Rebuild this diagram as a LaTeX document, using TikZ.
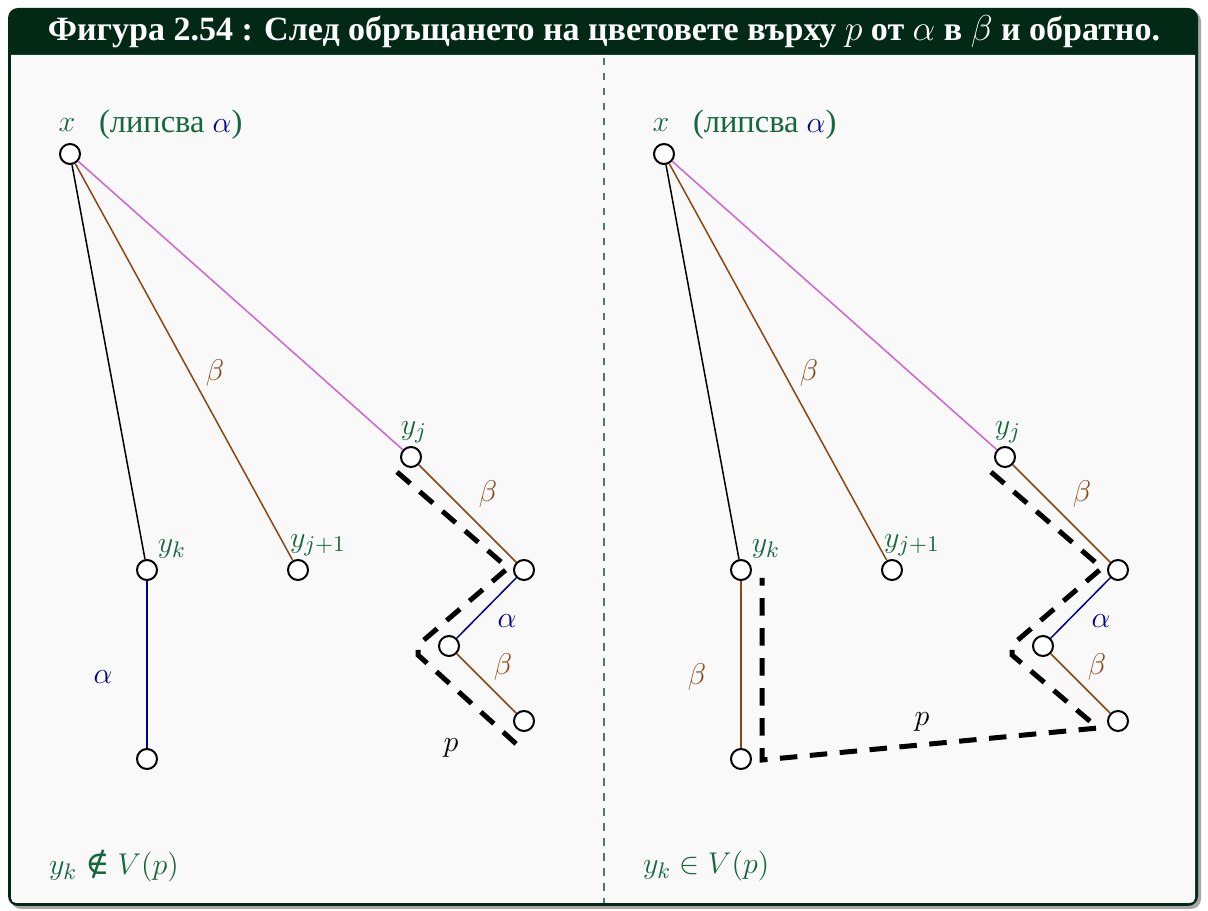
\documentclass[tikz,border=0pt]{standalone}
\usepackage[no-math]{fontspec}
\setmainfont{Liberation Serif}
\newfontfamily\symfont{DejaVu Serif}
\definecolor{framegreen}{RGB}{2,40,22}
\definecolor{bodygray}{RGB}{249,249,249}
\definecolor{lblgreen}{RGB}{22,102,64}
\definecolor{sepgreen}{RGB}{80,120,110}
\definecolor{edgebrown}{RGB}{140,70,20}
\definecolor{edgeorchid}{RGB}{210,100,210}
\definecolor{edgenavy}{RGB}{0,0,140}

\begin{document}
\begin{tikzpicture}[x=0.4pt,y=-0.4pt,
    every node/.style={font=\fontsize{13}{15}\selectfont},
    vert/.style={draw, circle, fill=white, line width=0.8pt, minimum size=8pt, inner sep=0pt},
    vname/.style={text=lblgreen, inner sep=1pt},
    elbl/.style={inner sep=1pt},
    plain/.style={line width=0.6pt},
    walk/.style={line width=2pt, dash pattern=on 7pt off 5pt}]
\useasboundingbox (0,0) rectangle (1208,911);
% frame
\fill[black!35, rounded corners=4pt] (11,11) rectangle (1201,909);
\fill[framegreen, rounded corners=4pt] (8,8) rectangle (1198,906);
\fill[bodygray] (11,55) -- (1195,55) {[rounded corners=2pt] -- (1195,903) -- (11,903)} -- cycle;
\node[text=white, font=\fontsize{13.6}{16}\selectfont\bfseries] (title) at (604,32) {Фигура 2.54 : След обръщането на цветовете върху $p$ от $\alpha$ в $\beta$ и обратно.};
\draw[sepgreen, line width=0.6pt, dash pattern=on 3pt off 3pt] (604,58) -- (604,903);

% left side
\node[vert] (x1) at (70,154) {};
\node[vert] (yk1) at (147,570) {};
\node[vert] (z1) at (147,759) {};
\node[vert] (yjj1) at (298,570) {};
\node[vert] (yj1) at (411,457) {};
\node[vert] (a1) at (524,570) {};
\node[vert] (b1) at (449,646) {};
\node[vert] (c1) at (524,721) {};
\node[vname] at (67,125) {$x$};
\node[vname, anchor=west] at (96,125) {(липсва {\color{edgenavy}$\alpha$})};
\node[vname] at (172,549) {$y_k$};
\node[vname] at (318,545) {$y_{j+1}$};
\node[vname] at (414,432) {$y_j$};
\draw[plain] (x1) -- (yk1);
\draw[plain, edgebrown] (x1) -- (yjj1);
\draw[plain, edgeorchid] (x1) -- (yj1);
\draw[plain, edgenavy] (yk1) -- (z1);
\draw[plain, edgebrown] (yj1) -- (a1);
\draw[plain, edgenavy] (a1) -- (b1);
\draw[plain, edgebrown] (b1) -- (c1);
\node[elbl, text=edgebrown] at (215,373) {$\beta$};
\node[elbl, text=edgenavy] at (103,677) {$\alpha$};
\node[elbl, text=edgebrown] at (488,494) {$\beta$};
\node[elbl, text=edgenavy] at (507,621) {$\alpha$};
\node[elbl, text=edgebrown] at (503,667) {$\beta$};
\node[elbl] at (451,748) {$p$};
\draw[walk] ([shift={(-14,15)}]yj1.center) -- ([shift={(-16,-2)}]a1.center) -- ([shift={(-31,-1)}]b1.center) -- ([shift={(-31,9)}]b1.center) -- ([shift={(0,30)}]c1.center);
\node[vname, anchor=west] at (46,866) {$y_k$ {\symfont ∉} $V(p)$};

% right side
\node[vert] (x2) at (664,154) {};
\node[vert] (yk2) at (741,570) {};
\node[vert] (z2) at (741,759) {};
\node[vert] (yjj2) at (892,570) {};
\node[vert] (yj2) at (1005,457) {};
\node[vert] (a2) at (1118,570) {};
\node[vert] (b2) at (1043,646) {};
\node[vert] (c2) at (1118,721) {};
\node[vname] at (661,125) {$x$};
\node[vname, anchor=west] at (690,125) {(липсва {\color{edgenavy}$\alpha$})};
\node[vname] at (766,549) {$y_k$};
\node[vname] at (912,545) {$y_{j+1}$};
\node[vname] at (1008,432) {$y_j$};
\draw[plain] (x2) -- (yk2);
\draw[plain, edgebrown] (x2) -- (yjj2);
\draw[plain, edgeorchid] (x2) -- (yj2);
\draw[plain, edgebrown] (yk2) -- (z2);
\draw[plain, edgebrown] (yj2) -- (a2);
\draw[plain, edgenavy] (a2) -- (b2);
\draw[plain, edgebrown] (b2) -- (c2);
\node[elbl, text=edgebrown] at (809,373) {$\beta$};
\node[elbl, text=edgebrown] at (697,677) {$\beta$};
\node[elbl, text=edgebrown] at (1082,494) {$\beta$};
\node[elbl, text=edgenavy] at (1101,621) {$\alpha$};
\node[elbl, text=edgebrown] at (1097,667) {$\beta$};
\node[elbl] at (922,722) {$p$};
\draw[walk] ([shift={(-14,15)}]yj2.center) -- ([shift={(-16,-2)}]a2.center) -- ([shift={(-31,-1)}]b2.center) -- ([shift={(-31,9)}]b2.center) -- ([shift={(-20,7)}]c2.center) -- ([shift={(21,1)}]z2.center) -- ([shift={(21,8)}]yk2.center);
\node[vname, anchor=west] at (640,866) {$y_k \in V(p)$};
\end{tikzpicture}
\end{document}
